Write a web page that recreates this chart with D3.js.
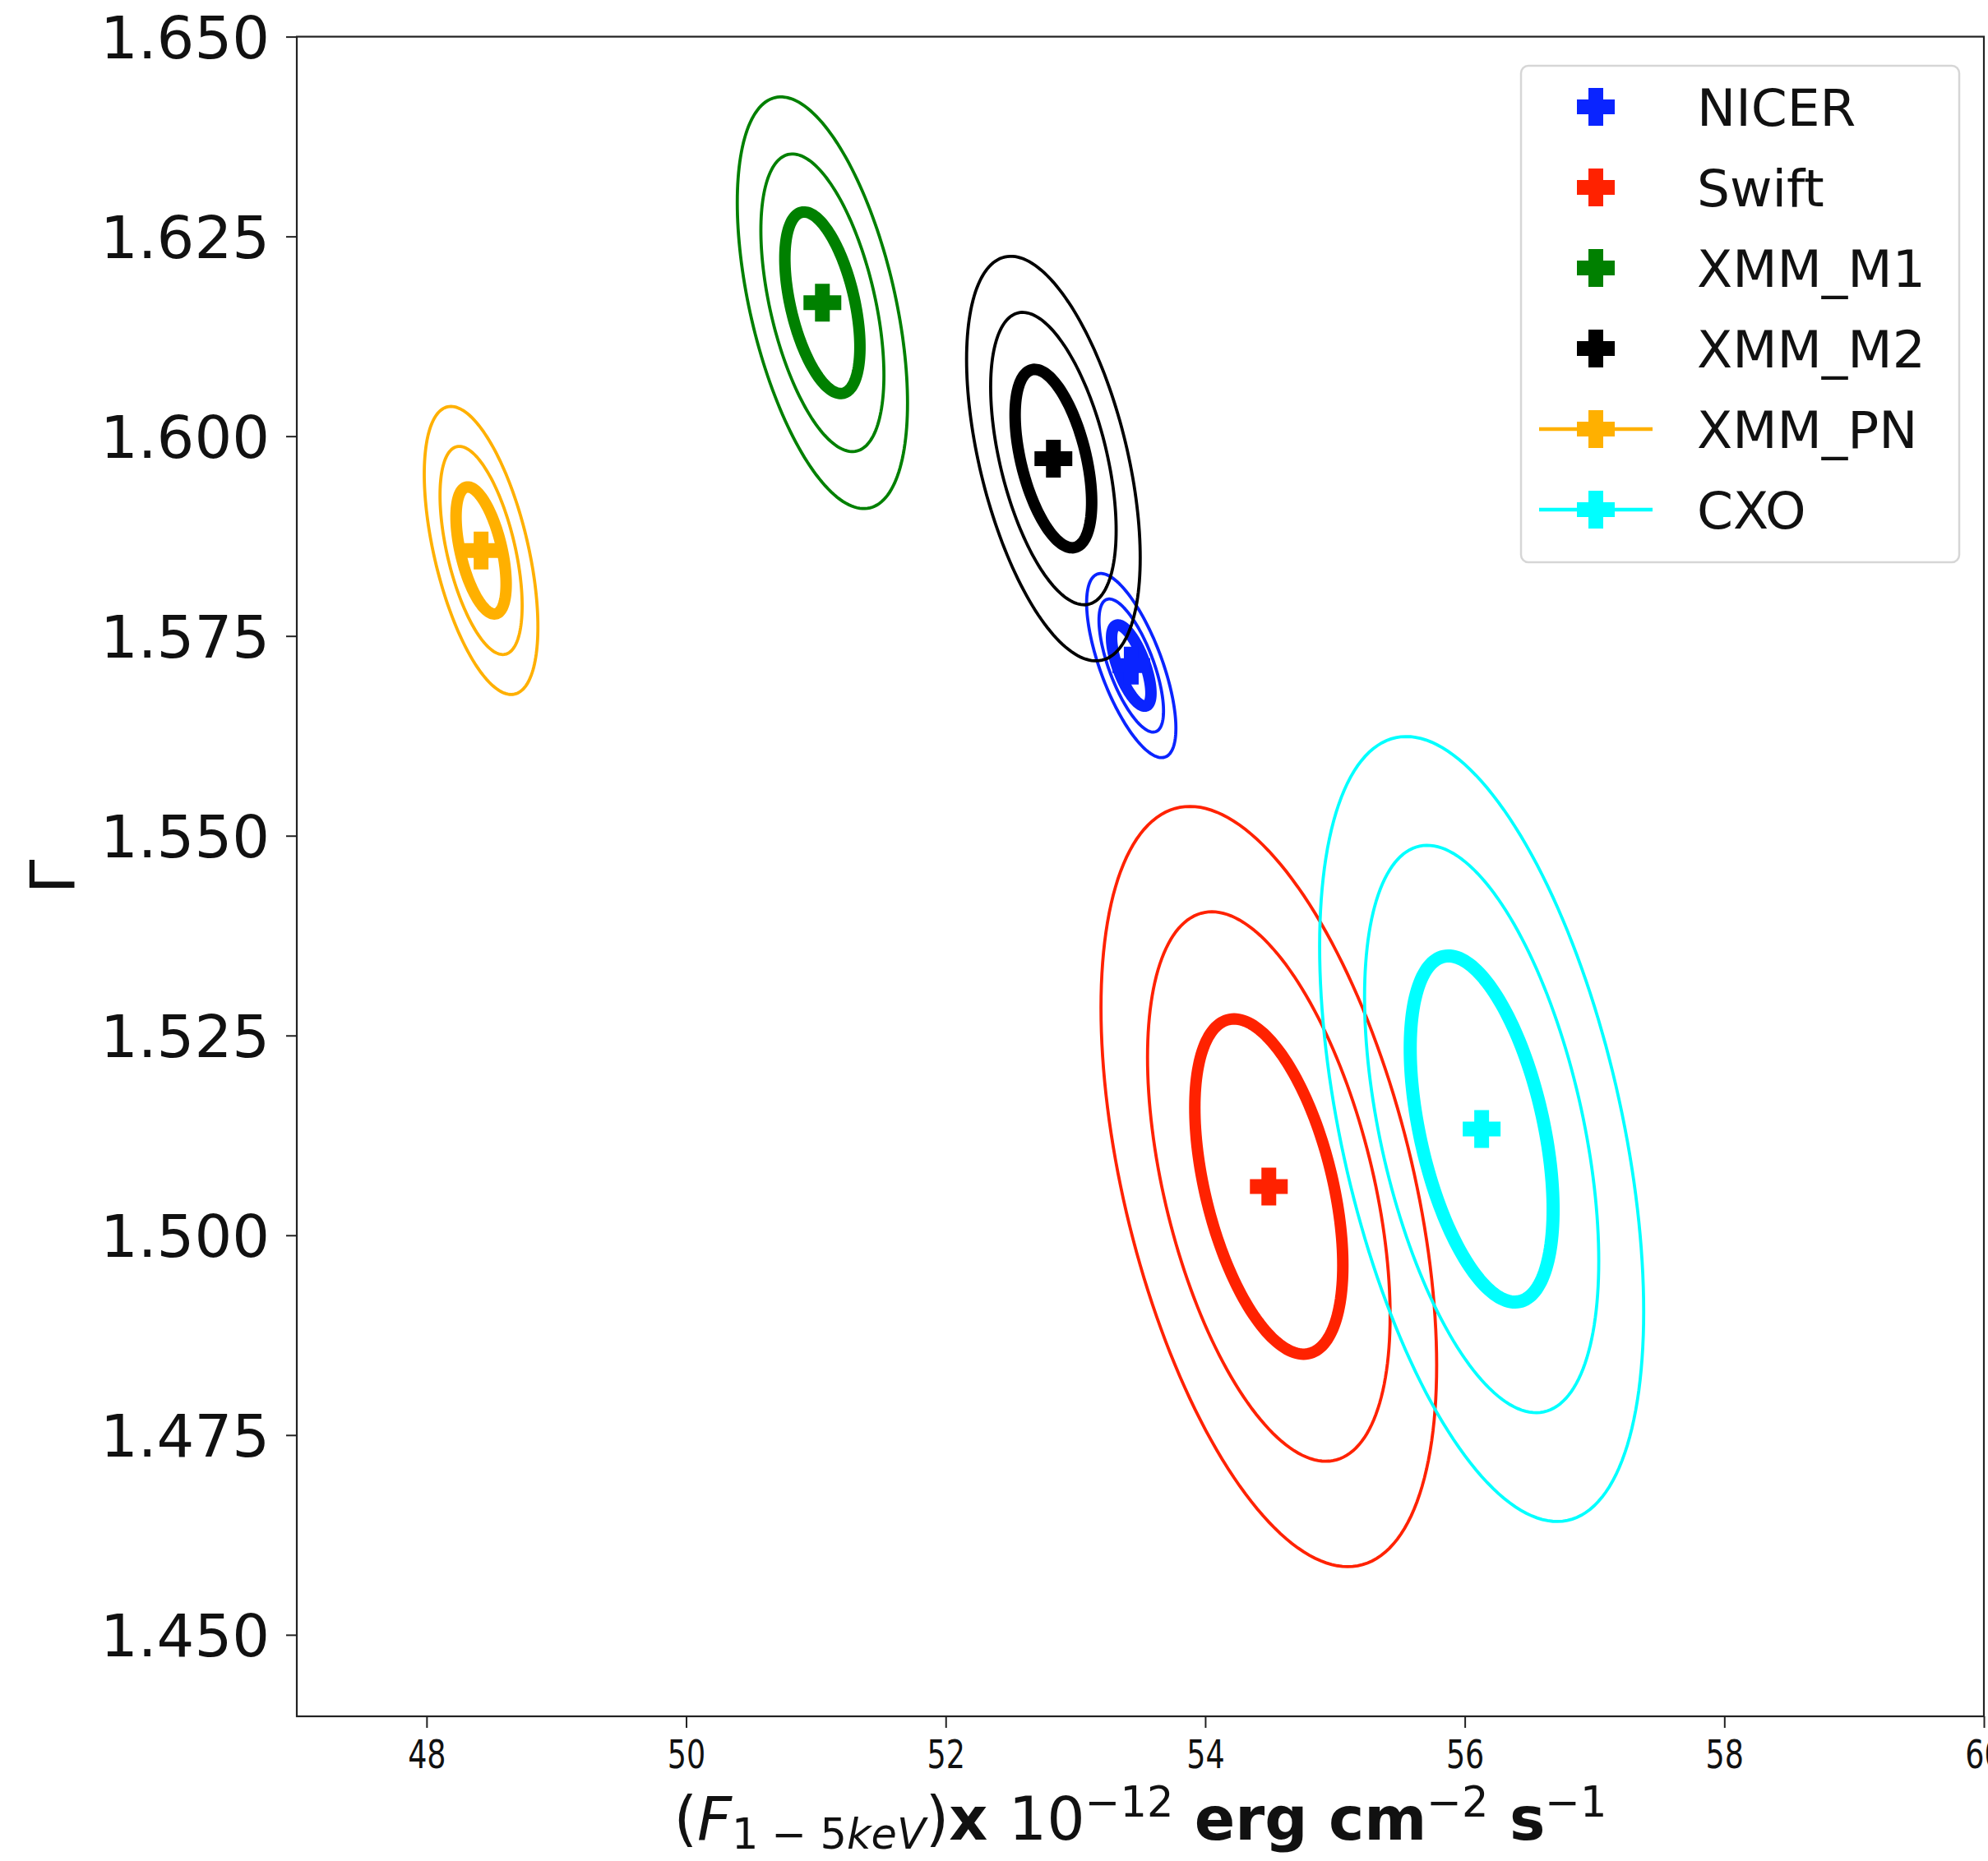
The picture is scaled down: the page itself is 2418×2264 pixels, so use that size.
<!DOCTYPE html>
<html>
<head>
<meta charset="utf-8">
<script src="https://cdn.jsdelivr.net/npm/d3@7"></script>
<style>
  body { margin: 0; background: #fff; }
  text { font-family: "DejaVu Sans", sans-serif; }
</style>
</head>
<body>
<script>
// Best-fit flux / photon index per instrument, with 1,2,3 sigma contours
const sources    = ["NICER", "Swift", "XMM_M1", "XMM_M2", "XMM_PN", "CXO"];
const flux       = [53.43, 54.49, 51.05, 52.83, 48.42, 56.13];
const gamma      = [1.5713, 1.5061, 1.6167, 1.5972, 1.5857, 1.5133];
const fluxSigma  = [0.1000, 0.376, 0.1907, 0.1945, 0.1273, 0.363];
const gammaSigma = [0.00335, 0.01383, 0.00749, 0.00736, 0.00524, 0.01428];
const corr       = [-0.68, -0.47, -0.487, -0.49, -0.53, -0.465];
// delta chi^2 levels for 2 parameters (68%, 95%, 99.7%)
const levels     = [2.30, 6.18, 11.83];

const xTicks = [48, 50, 52, 54, 56, 58, 60];
const yTicks = [1.450, 1.475, 1.500, 1.525, 1.550, 1.575, 1.600, 1.625, 1.650];

const colors = {NICER: "#0a24ff", Swift: "#ff2200", XMM_M1: "#008000",
                XMM_M2: "#000000", XMM_PN: "#ffb000", CXO: "#00ffff"};
const withLine = ["XMM_PN", "CXO"];

var W = 2418, H = 2264;
var plot = {left: 361, right: 2413, top: 44.6, bottom: 2088};

var svg = d3.select("body").append("svg")
    .attr("width", W).attr("height", H);

var x = d3.scaleLinear().domain([47, 60]).range([plot.left, plot.right]);
var y = d3.scaleLinear().domain([1.4398, 1.650]).range([plot.bottom, plot.top]);

// contour ellipse in data space, mapped through the scales
function contour(i, lvl) {
  var k = Math.sqrt(lvl), r = corr[i], s = Math.sqrt(1 - r * r);
  var pts = d3.range(0, 181).map(function(j) {
    var t = j / 180 * 2 * Math.PI;
    return [flux[i] + fluxSigma[i] * k * Math.cos(t),
            gamma[i] + gammaSigma[i] * k * (r * Math.cos(t) + s * Math.sin(t))];
  });
  return d3.line().x(function(d) { return x(d[0]); })
               .y(function(d) { return y(d[1]); })
               .curve(d3.curveLinearClosed)(pts);
}

// filled plus marker
function plus(size, arm) {
  var a = size / 2, b = arm / 2;
  return "M" + (-a) + "," + (-b) + "H" + (-b) + "V" + (-a) + "H" + b + "V" + (-b) +
         "H" + a + "V" + b + "H" + b + "V" + a + "H" + (-b) + "V" + b + "H" + (-a) + "Z";
}

svg.append("clipPath").attr("id", "clip").append("rect")
    .attr("x", plot.left).attr("y", plot.top)
    .attr("width", plot.right - plot.left).attr("height", plot.bottom - plot.top);

var g = svg.append("g").attr("clip-path", "url(#clip)");

sources.forEach(function(name, i) {
  levels.forEach(function(lvl, li) {
    g.append("path")
      .attr("d", contour(i, lvl))
      .attr("fill", "none")
      .attr("stroke", colors[name])
      .attr("stroke-width", li === 0 ? (name === "CXO" ? 16 : 14) : 3.8);
  });
});

sources.forEach(function(name, i) {
  g.append("path")
    .attr("d", plus(46, 18))
    .attr("transform", "translate(" + x(flux[i]) + "," + y(gamma[i]) + ")")
    .attr("fill", colors[name]);
});

// axes
var xAxis = svg.append("g")
    .attr("transform", "translate(0," + plot.bottom + ")")
    .call(d3.axisBottom(x).tickValues(xTicks).tickSize(14).tickPadding(15)
          .tickFormat(d3.format("d")));
xAxis.select(".domain").remove();
xAxis.selectAll("line").attr("stroke", "#222").attr("stroke-width", 2);
xAxis.selectAll("text").attr("font-size", 48).attr("fill", "#111")
    .attr("transform", "scale(0.76,1)")
    .style("font-family", "DejaVu Sans");

var yAxis = svg.append("g")
    .attr("transform", "translate(" + plot.left + ",0)")
    .call(d3.axisLeft(y).tickValues(yTicks).tickSize(13).tickPadding(20)
          .tickFormat(d3.format(".3f")));
yAxis.select(".domain").remove();
yAxis.selectAll("line").attr("stroke", "#222").attr("stroke-width", 2);
yAxis.selectAll("text").attr("font-size", 72).attr("fill", "#111")
    .attr("dy", "0.36em").style("font-family", "DejaVu Sans");

// frame
svg.append("rect")
    .attr("x", plot.left).attr("y", plot.top)
    .attr("width", plot.right - plot.left).attr("height", plot.bottom - plot.top)
    .attr("fill", "none").attr("stroke", "#222").attr("stroke-width", 2.2);

// x label
var xl = svg.append("text")
    .attr("x", (plot.left + plot.right) / 2).attr("y", 2238)
    .attr("text-anchor", "middle").attr("font-size", 73).attr("fill", "#111")
    .style("white-space", "pre");
xl.append("tspan").text("(");
xl.append("tspan").attr("font-style", "italic").text("F");
xl.append("tspan").attr("font-size", 51).attr("dy", 11).text("1 \u2212 5");
xl.append("tspan").attr("font-size", 51).attr("font-style", "italic").text("keV");
xl.append("tspan").attr("dy", -11).text(")");
xl.append("tspan").attr("font-weight", "bold").text("x ");
xl.append("tspan").text("10");
xl.append("tspan").attr("font-size", 51).attr("dy", -28).text("\u221212");
xl.append("tspan").attr("dy", 28).attr("font-weight", "bold").text(" erg cm");
xl.append("tspan").attr("font-size", 51).attr("dy", -28).text("\u22122");
xl.append("tspan").attr("dy", 28).attr("font-weight", "bold").text(" s");
xl.append("tspan").attr("font-size", 51).attr("dy", -28).text("\u22121");

// y label
svg.append("text")
    .attr("transform", "translate(90," + (plot.top + plot.bottom) / 2 + ") rotate(-90)")
    .attr("text-anchor", "middle").attr("font-size", 75).attr("fill", "#111")
    .text("\u0393");

// legend
var leg = svg.append("g");
leg.append("rect")
    .attr("x", 1850).attr("y", 80).attr("width", 533).attr("height", 604)
    .attr("rx", 9).attr("fill", "#fff").attr("fill-opacity", 0.8)
    .attr("stroke", "#d6d6d6").attr("stroke-width", 2.5);

sources.forEach(function(name, i) {
  var cy = 130 + i * 98;
  var row = leg.append("g").attr("transform", "translate(0," + cy + ")");
  if (withLine.indexOf(name) >= 0) {
    row.append("line").attr("x1", 1872).attr("x2", 2010)
      .attr("stroke", colors[name]).attr("stroke-width", 4.5);
  }
  row.append("path").attr("d", plus(46, 18))
    .attr("transform", "translate(1941,0)").attr("fill", colors[name]);
  row.append("text").attr("x", 2064).attr("y", 0).attr("dy", "0.36em")
    .attr("font-size", 63).attr("fill", "#111").text(name);
});
</script>
</body>
</html>
